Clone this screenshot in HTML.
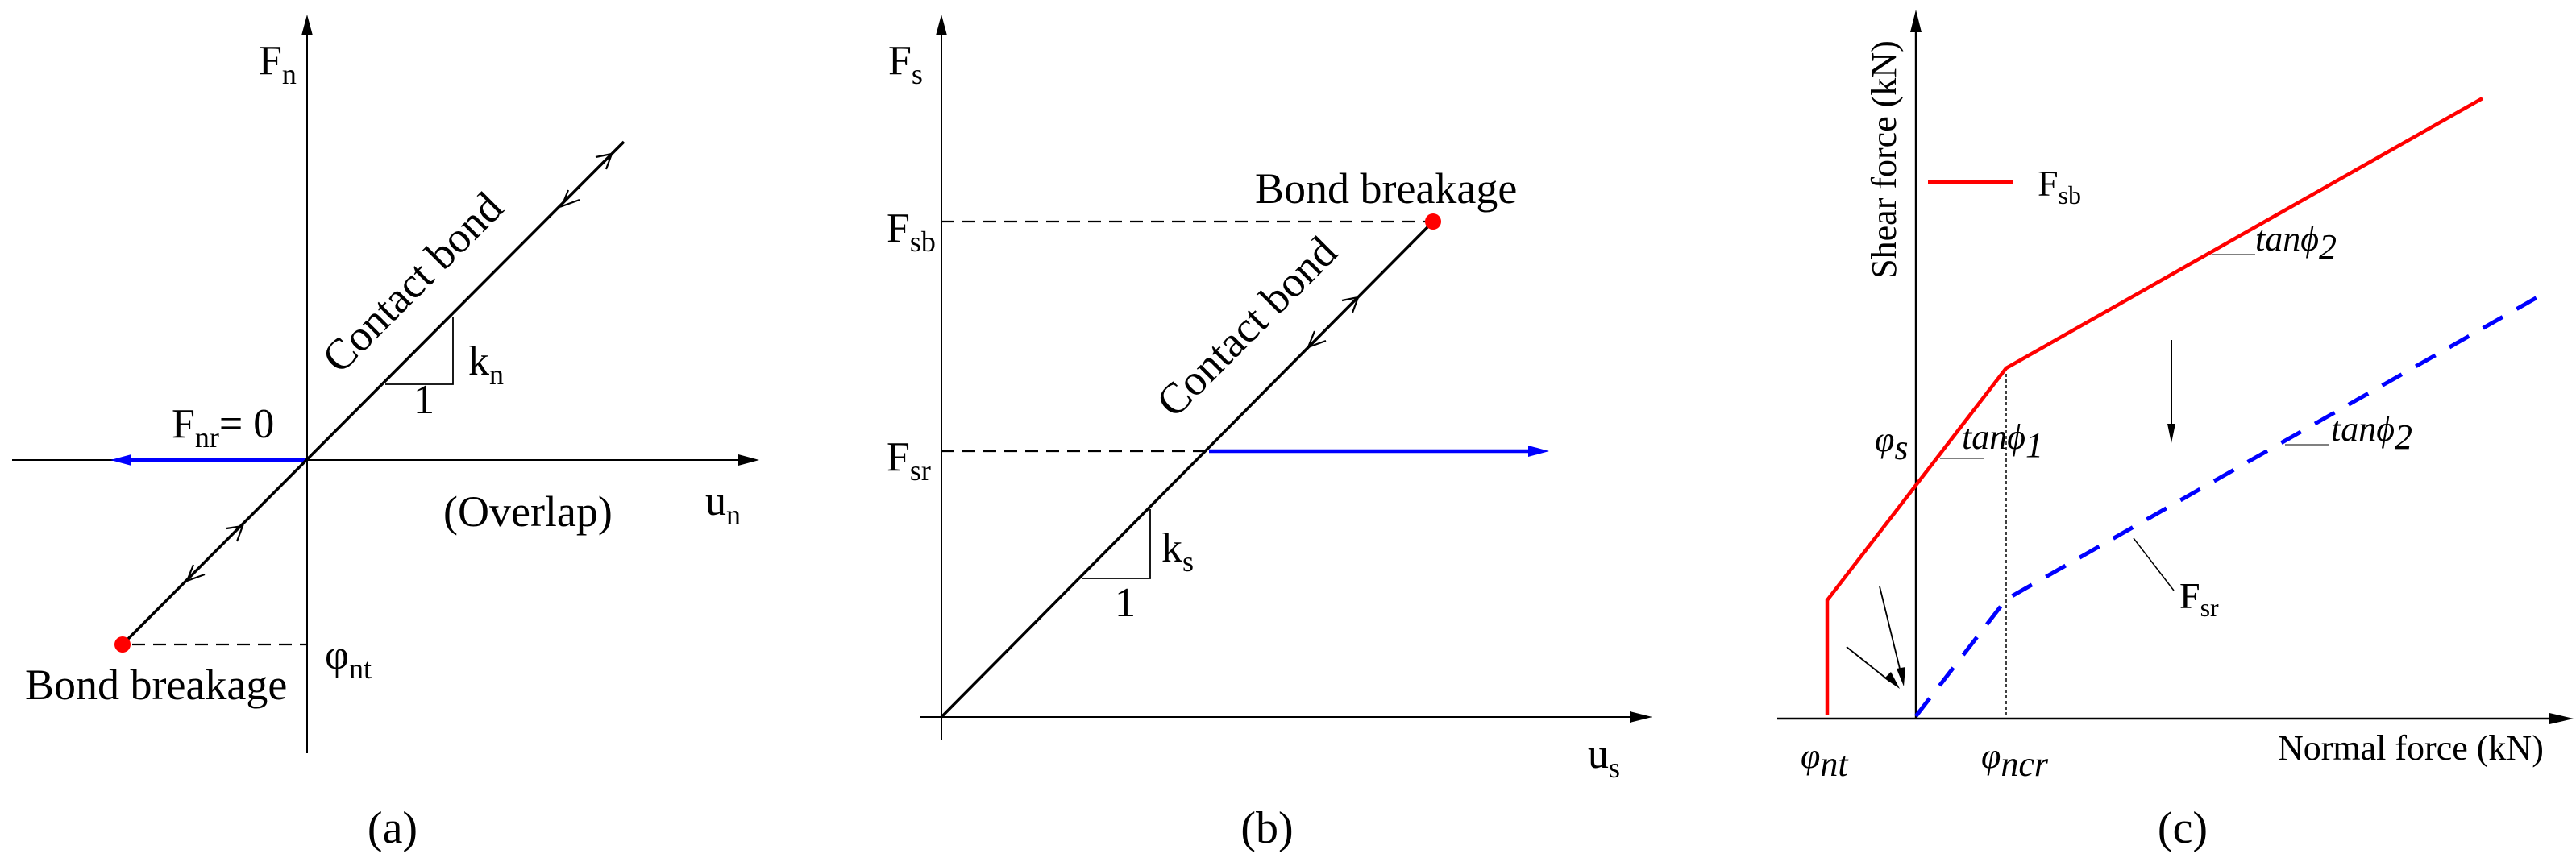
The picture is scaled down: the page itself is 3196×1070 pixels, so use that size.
<!DOCTYPE html>
<html><head><meta charset="utf-8"><style>
html,body{margin:0;padding:0;background:#fff}
svg{display:block}
svg text{font-family:"Liberation Serif","DejaVu Serif",serif !important;fill:#000}
</style></head><body>
<svg width="3196" height="1070" viewBox="0 0 3196 1070" xmlns="http://www.w3.org/2000/svg" font-family="Liberation Serif, DejaVu Serif, serif">
<!-- ===== Panel (a) ===== -->
<line x1="381" y1="40" x2="381" y2="935" stroke="#000" stroke-width="2"/>
<polygon points="381,18 374,44 388,44" fill="#000"/>
<line x1="15" y1="571" x2="920" y2="571" stroke="#000" stroke-width="2"/>
<polygon points="942,571 916,564 916,578" fill="#000"/>
<line x1="381" y1="571" x2="160" y2="571" stroke="#00f" stroke-width="4.5"/>
<polygon points="137,571 163,564 163,578" fill="#00f"/>
<line x1="152" y1="800" x2="774" y2="176" stroke="#000" stroke-width="3.5"/>
<polyline points="739,195 759,191 752,210" fill="none" stroke="#000" stroke-width="2.2"/>
<polyline points="719,248 697,256 705,236" fill="none" stroke="#000" stroke-width="2.2"/>
<polyline points="281,656 301,653 294,672" fill="none" stroke="#000" stroke-width="2.2"/>
<polyline points="254,713 232,721 240,701" fill="none" stroke="#000" stroke-width="2.2"/>
<polyline points="478,477 562,477 562,393" fill="none" stroke="#000" stroke-width="1.8"/>
<line x1="164" y1="800" x2="381" y2="800" stroke="#000" stroke-width="2.2" stroke-dasharray="16,10"/>
<circle cx="152" cy="800" r="10" fill="#f00"/>
<text x="321" y="92" font-size="52">F<tspan font-size="36" dy="12">n</tspan></text>
<text x="581" y="465" font-size="52">k<tspan font-size="36" dy="12">n</tspan></text>
<text x="513" y="513" font-size="52">1</text>
<text x="213" y="543" font-size="52">F<tspan font-size="36" dy="12">nr</tspan><tspan dy="-12">= 0</tspan></text>
<text x="403" y="830" font-size="52">φ<tspan font-size="36" dy="12">nt</tspan></text>
<text x="31" y="868" font-size="54">Bond breakage</text>
<text x="550" y="653" font-size="54">(Overlap)</text>
<text x="875" y="639" font-size="52">u<tspan font-size="36" dy="12">n</tspan></text>
<text transform="translate(530,369) rotate(-45)" text-anchor="middle" font-size="54" y="-8">Contact bond</text>
<text x="487" y="1046" font-size="56" text-anchor="middle">(a)</text>

<!-- ===== Panel (b) ===== -->
<line x1="1168" y1="40" x2="1168" y2="919" stroke="#000" stroke-width="2"/>
<polygon points="1168,18 1161,44 1175,44" fill="#000"/>
<line x1="1141" y1="890" x2="2025" y2="890" stroke="#000" stroke-width="2"/>
<polygon points="2050,890 2022,883 2022,897" fill="#000"/>
<line x1="1168" y1="890" x2="1778" y2="275" stroke="#000" stroke-width="3.5"/>
<line x1="1168" y1="275" x2="1770" y2="275" stroke="#000" stroke-width="2.2" stroke-dasharray="16,10"/>
<line x1="1168" y1="560" x2="1498" y2="560" stroke="#000" stroke-width="2.2" stroke-dasharray="16,10"/>
<line x1="1500" y1="560" x2="1900" y2="560" stroke="#00f" stroke-width="4.5"/>
<polygon points="1922,560 1896,553 1896,567" fill="#00f"/>
<circle cx="1778" cy="275" r="10" fill="#f00"/>
<polyline points="1665,373 1685,369 1678,388" fill="none" stroke="#000" stroke-width="2.2"/>
<polyline points="1645,423 1623,431 1631,411" fill="none" stroke="#000" stroke-width="2.2"/>
<polyline points="1343,718 1427,718 1427,632" fill="none" stroke="#000" stroke-width="1.8"/>
<text x="1441" y="697" font-size="52">k<tspan font-size="36" dy="12">s</tspan></text>
<text x="1383" y="765" font-size="52">1</text>
<text transform="translate(1565,424) rotate(-45)" text-anchor="middle" font-size="54" y="-8">Contact bond</text>
<text x="1557" y="252" font-size="54">Bond breakage</text>
<text x="1102" y="92" font-size="52">F<tspan font-size="36" dy="12">s</tspan></text>
<text x="1100" y="300" font-size="52">F<tspan font-size="36" dy="12">sb</tspan></text>
<text x="1100" y="584" font-size="52">F<tspan font-size="36" dy="12">sr</tspan></text>
<text x="1970" y="953" font-size="52">u<tspan font-size="36" dy="12">s</tspan></text>
<text x="1572" y="1046" font-size="56" text-anchor="middle">(b)</text>

<!-- ===== Panel (c) ===== -->
<line x1="2377" y1="36" x2="2377" y2="892" stroke="#000" stroke-width="2.4"/>
<polygon points="2377,12 2370,40 2384,40" fill="#000"/>
<line x1="2205" y1="892" x2="3168" y2="892" stroke="#000" stroke-width="2.4"/>
<polygon points="3193,892 3163,885 3163,899" fill="#000"/>
<line x1="2489" y1="457" x2="2489" y2="892" stroke="#000" stroke-width="1.5" stroke-dasharray="4,3"/>
<polyline points="2267,887 2267,745 2489,457 3080,122" fill="none" stroke="#f00" stroke-width="4.5"/>
<polyline points="2377,889 2489,744 3162,361" fill="none" stroke="#00f" stroke-width="5" stroke-dasharray="28,20"/>
<line x1="2392" y1="226" x2="2498" y2="226" stroke="#f00" stroke-width="4.5"/>
<text x="2528" y="243" font-size="46">F<tspan font-size="32" dy="10">sb</tspan></text>
<line x1="2694" y1="422" x2="2694" y2="530" stroke="#000" stroke-width="2"/>
<polygon points="2694,550 2689,526 2699,526" fill="#000"/>
<line x1="2745" y1="316" x2="2798" y2="316" stroke="#000" stroke-width="1"/>
<text x="2798" y="311" font-size="44" font-style="italic">tan<tspan>ϕ</tspan><tspan dy="10">2</tspan></text>
<line x1="2407" y1="569" x2="2461" y2="569" stroke="#000" stroke-width="1"/>
<text x="2434" y="557" font-size="44" font-style="italic">tan<tspan>ϕ</tspan><tspan dy="10">1</tspan></text>
<line x1="2835" y1="552" x2="2890" y2="552" stroke="#000" stroke-width="1"/>
<text x="2892" y="547" font-size="44" font-style="italic">tan<tspan>ϕ</tspan><tspan dy="10">2</tspan></text>
<text x="2326" y="560" font-size="44" font-style="italic">φ<tspan dy="10">s</tspan></text>
<line x1="2647" y1="668" x2="2697" y2="733" stroke="#000" stroke-width="1.5"/>
<text x="2704" y="755" font-size="46">F<tspan font-size="32" dy="10">sr</tspan></text>
<line x1="2332" y1="728" x2="2359" y2="838" stroke="#000" stroke-width="1.8"/>
<polygon points="2362,852 2353,830 2364,828" fill="#000"/>
<line x1="2291" y1="803" x2="2345" y2="846" stroke="#000" stroke-width="1.8"/>
<polygon points="2357,855 2338,842 2346,834" fill="#000"/>
<text x="2234" y="953" font-size="44" font-style="italic">φ<tspan dy="10">nt</tspan></text>
<text x="2458" y="953" font-size="44" font-style="italic">φ<tspan dy="10">ncr</tspan></text>
<text x="2826" y="943" font-size="44">Normal force (kN)</text>
<text transform="translate(2352,198) rotate(-90)" text-anchor="middle" font-size="44">Shear force (kN)</text>
<text x="2708" y="1046" font-size="56" text-anchor="middle">(c)</text>
</svg>
</body></html>
